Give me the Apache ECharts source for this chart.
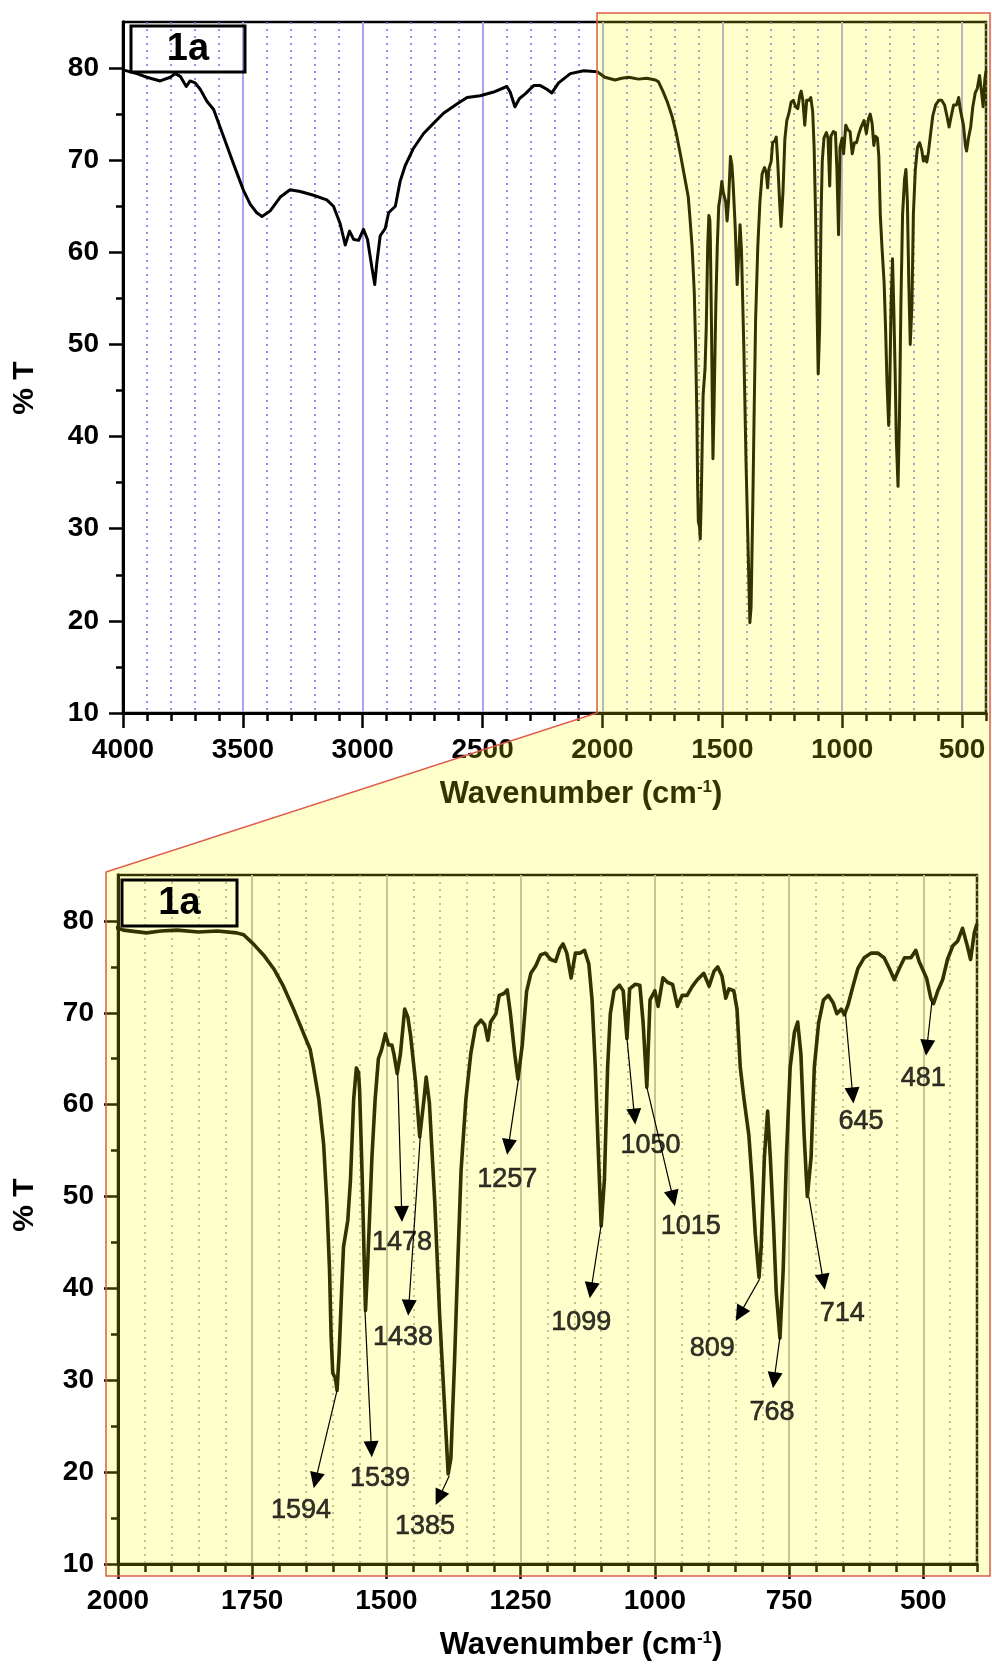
<!DOCTYPE html>
<html><head><meta charset="utf-8">
<script src="https://cdn.jsdelivr.net/npm/echarts@6/dist/echarts.min.js"></script>
<style>html,body{margin:0;padding:0;background:#fff}#c{width:992px;height:1664px}</style>
</head><body><div id="c"></div>
<script>
// ---- spectrum (wavenumber cm-1, %T) ----
const wavenumbers = [4000,3942,3900,3845,3803,3782,3761,3736,3720,3699,3678,3650,3622,3581,3539,3497,3469,3442,3420,3386,3344,3303,3261,3205,3150,3122,3094,3073,3055,3038,3017,2997,2980,2962,2950,2941,2927,2906,2892,2864,2844,2823,2788,2746,2705,2663,2607,2565,2510,2454,2399,2385,2365,2346,2322,2287,2259,2232,2211,2183,2134,2078,2022,2000,
1990,1947,1920,1890,1850,1815,1779,1766,1748,1729,1710,1692,1673,1654,1642,1636,1626,1617,1611,1606,1603,1600,1595,1592,1588,1584,1580,1572,1567,1561,1556,1552,1550,1545,1541,1539,1535,1527,1521,1515,1509,1502,1496,1490,1486,1480,1474,1466,1460,1455,1446,1438,1430,1426,1420,1410,1401,1392,1385,1380,1373,1367,1361,1352,1343,1334,1324,1317,1311,1306,1296,1290,1281,1275,1269,1261,1255,1247,1239,1231,1222,1213,1204,1194,1185,1177,1171,1164,1156,1148,1139,1131,1123,1117,1111,1105,1100,1094,1088,1083,1076,1066,1059,1052,1047,1037,1028,1022,1015,1009,1000,994,985,976,967,958,949,940,930,921,909,899,890,883,875,868,862,853,847,841,834,825,819,813,806,802,796,790,785,779,774,767,761,755,748,740,734,728,722,716,709,703,695,686,677,668,661,653,647,640,631,622,610,597,585,573,563,554,545,535,523,514,508,494,486,481,473,464,455,445,436,427,419,412,405,400];
const transmittance = [79.8,79.4,79.0,78.6,79.0,79.4,79.1,78.0,78.6,78.4,77.7,76.4,75.5,72.6,69.6,66.7,65.2,64.3,63.9,64.5,66.0,66.8,66.6,66.2,65.7,65.0,63.1,60.8,62.3,61.4,61.3,62.5,61.4,58.4,56.5,58.9,61.8,62.6,64.3,65.0,67.7,69.4,71.3,72.9,74.0,75.1,76.1,76.8,77.0,77.4,78.0,77.4,75.8,76.7,77.2,78.1,78.1,77.7,77.3,78.4,79.4,79.7,79.6,79.2,
79.0,78.7,78.9,79.0,78.8,78.9,78.7,78.5,77.5,76.3,74.8,72.9,70.4,67.7,66.0,64.1,60.6,55.7,49.4,42.0,34.7,30.8,30.2,28.9,33.0,39.0,44.5,47.4,51.8,60.6,64.0,63.5,61.6,51.8,42.0,37.6,42.5,54.3,60.6,65.0,66.0,67.7,66.5,66.5,65.5,63.4,65.5,70.4,69.5,67.5,62.6,56.5,60.6,63.0,60.2,49.4,37.2,27.4,19.8,21.5,32.3,43.0,52.8,60.6,65.5,68.5,69.2,68.7,67.0,69.0,69.9,71.9,72.1,72.5,69.9,65.5,62.8,66.5,72.3,74.3,75.1,76.3,76.5,75.8,75.6,77.0,77.5,76.5,73.8,76.5,76.5,76.8,75.3,71.4,64.1,54.3,46.8,51.8,64.1,69.9,72.4,73.0,72.4,67.2,72.6,73.1,73.0,69.0,61.9,71.4,72.4,70.7,73.8,73.3,73.1,70.7,71.9,71.9,72.9,73.6,74.3,72.9,74.5,75.0,74.0,71.6,72.6,72.4,70.4,64.1,60.6,56.7,51.8,45.9,41.2,44.5,54.3,59.3,54.3,46.9,39.6,34.6,42.0,54.3,64.1,67.9,69.0,65.5,56.7,50.0,54.3,64.1,68.9,71.4,71.9,71.1,69.9,70.4,69.8,70.9,72.9,74.8,76.0,76.5,76.5,76.0,74.8,73.6,74.8,76.0,76.0,76.8,75.6,73.8,71.6,71.0,72.4,73.6,75.8,77.3,77.8,79.2,77.5,75.8,78.7,79.7];

// ---- peak annotations (data coordinates) ----
const peakLabels = ['1594','1539','1478','1438','1385','1257','1099','1050','1015','809','768','714','645','481'];
const peakPoints = [[1592,28.9],[1540,37.6],[1479,63.3],[1437,56.5],[1383,19.6],[1254,62.8],[1100,46.9],[1052,67.2],[1015,61.9],[805,41.0],[767,34.7],[713,49.9],[645,69.9],[484,71.2]];
const arrowEnds = [[1632,19.1],[1528,22.5],[1471.5,48.1],[1458.5,37.9],[1402,17.2],[1273,55.4],[1119,39.8],[1038,58.7],[966,49.8],[842,37.2],[778,30.0],[686,40.7],[631.5,61.0],[493.4,66.2]];
const labelPoints = [[1659,15.8],[1512,19.3],[1471,45.0],[1469,34.7],[1428,14.1],[1275,51.9],[1137,36.3],[1008,55.5],[933,46.7],[893,33.4],[782,26.5],[651,37.3],[616,58.2],[500,62.8]];

// ---- ticks ----
const topMajorTicks = [4000,3500,3000,2500,2000,1500,1000,500];
const topMinorTicks = [4000,3900,3800,3700,3600,3500,3400,3300,3200,3100,3000,2900,2800,2700,2600,2500,2400,2300,2200,2100,2000,1900,1800,1700,1600,1500,1400,1300,1200,1100,1000,900,800,700,600,500,400];
const bottomMajorTicks = [2000,1750,1500,1250,1000,750,500];
const bottomMinorTicks = [2000,1950,1900,1850,1800,1750,1700,1650,1600,1550,1500,1450,1400,1350,1300,1250,1200,1150,1100,1050,1000,950,900,850,800,750,700,650,600,550,500,450,400];
const yMajorTicks = [10,20,30,40,50,60,70,80];
const yMinorTicks = [15,25,35,45,55,65,75];

const FONT = 'Liberation Sans, Arial, sans-serif';
const spectrum = wavenumbers.map((w, i) => [w, transmittance[i]]);
const plain = (v) => String(v);

function xAxisPair(grid, min, max, minor, major, dashColor, solidColor, solidWidth) {
  return [
    { gridIndex: grid, type: 'value', min: min, max: max, inverse: true, position: 'bottom',
      axisLine: { show: true, onZero: false, lineStyle: { color: '#000', width: 3 } },
      axisTick: { show: true, customValues: minor, length: 8, lineStyle: { color: '#000', width: 2.5 } },
      axisLabel: { show: false },
      splitLine: { show: true, lineStyle: { color: dashColor, width: 1.5, type: [2, 5] } } },
    { gridIndex: grid, type: 'value', min: min, max: max, inverse: true, position: 'bottom',
      axisLine: { show: true, onZero: false, lineStyle: { color: '#000', width: 3 } },
      axisTick: { show: true, customValues: major, length: 15, lineStyle: { color: '#000', width: 2.5 } },
      axisLabel: { show: true, customValues: major, formatter: plain, margin: 23, color: '#000', fontSize: 28, fontWeight: 'bold', fontFamily: FONT },
      splitLine: { show: true, lineStyle: { color: solidColor, width: solidWidth, type: 'solid' } } }
  ];
}
function yAxisPair(grid) {
  return [
    { gridIndex: grid, type: 'value', min: 10, max: 85, position: 'left',
      axisLine: { show: true, onZero: false, lineStyle: { color: '#000', width: 3 } },
      axisTick: { show: true, customValues: yMinorTicks, length: 7, lineStyle: { color: '#000', width: 2.5 } },
      axisLabel: { show: false }, splitLine: { show: false } },
    { gridIndex: grid, type: 'value', min: 10, max: 85, position: 'left',
      axisLine: { show: true, onZero: false, lineStyle: { color: '#000', width: 3 } },
      axisTick: { show: true, customValues: yMajorTicks, length: 14, lineStyle: { color: '#000', width: 2.5 } },
      axisLabel: { show: true, customValues: yMajorTicks, formatter: plain, margin: 24, color: '#000', fontSize: 28, fontWeight: 'bold', fontFamily: FONT },
      splitLine: { show: false } }
  ];
}

const titleRich = {
  a: { fontSize: 31, fontWeight: 'bold', fontFamily: FONT, fill: '#000' },
  s: { fontSize: 17, fontWeight: 'bold', fontFamily: FONT, fill: '#000', verticalAlign: 'top', padding: [0, 0, 14, 0] }
};

const chart = echarts.init(document.getElementById('c'), null, { renderer: 'canvas' });
chart.setOption({
  animation: false,
  backgroundColor: '#fff',
  grid: [
    { left: 123, top: 22, width: 863, height: 691, show: true, backgroundColor: '#fff', borderColor: '#000', borderWidth: 2.5 },
    { left: 118, top: 875, width: 859, height: 689, show: true, backgroundColor: '#fff', borderColor: '#000', borderWidth: 2.5 }
  ],
  xAxis: [].concat(
    xAxisPair(0, 400, 4000, topMinorTicks, topMajorTicks, '#6c6cdc', '#a4a4f2', 2),
    xAxisPair(1, 400, 2000, bottomMinorTicks, bottomMajorTicks, '#9a9a9a', '#b8b8b8', 2)
  ),
  yAxis: [].concat(yAxisPair(0), yAxisPair(1)),
  series: [
    { type: 'line', xAxisIndex: 1, yAxisIndex: 1, data: spectrum, showSymbol: false, symbol: 'none',
      lineStyle: { color: '#000', width: 3, join: 'round' }, z: 3, clip: true },
    { type: 'line', xAxisIndex: 3, yAxisIndex: 3, data: spectrum, showSymbol: false, symbol: 'none',
      lineStyle: { color: '#000', width: 3.6, join: 'round' }, z: 3, clip: true },
    { type: 'scatter', xAxisIndex: 3, yAxisIndex: 3, z: 60, symbolSize: 0, silent: true,
      data: labelPoints.map((p, i) => ({ value: p, name: peakLabels[i] })),
      label: { show: true, position: 'inside', formatter: (p) => p.name, color: '#000', fontSize: 27, fontFamily: FONT,
               textBorderColor: '#000', textBorderWidth: 0.6 },
      markLine: {
        silent: true, z: 60, animation: false,
        symbol: ['none', 'triangle'], symbolSize: [15, 16],
        lineStyle: { color: '#000', width: 1.2, type: 'solid' },
        label: { show: false },
        emphasis: { disabled: true },
        data: peakPoints.map((p, i) => [{ coord: p }, { coord: arrowEnds[i] }])
      } }
  ],
  graphic: [
    { type: 'text', z: 10, x: 581, y: 794, style: { text: '{a|Wavenumber (cm}{s|-1}{a|)}', rich: titleRich, align: 'center', verticalAlign: 'middle' } },
    { type: 'text', z: 60, x: 581, y: 1645, style: { text: '{a|Wavenumber (cm}{s|-1}{a|)}', rich: titleRich, align: 'center', verticalAlign: 'middle' } },
    { type: 'text', z: 60, x: 25, y: 388, rotation: Math.PI / 2, style: { text: '% T', fontSize: 30, fontWeight: 'bold', fontFamily: FONT, fill: '#000', align: 'center', verticalAlign: 'middle' } },
    { type: 'text', z: 60, x: 25, y: 1205, rotation: Math.PI / 2, style: { text: '% T', fontSize: 30, fontWeight: 'bold', fontFamily: FONT, fill: '#000', align: 'center', verticalAlign: 'middle' } },
    { type: 'polygon', z: 50, silent: true,
      shape: { points: [[597, 13], [990, 13], [990, 1576], [106, 1576], [106, 872], [597, 713]] },
      style: { fill: 'rgba(255,255,0,0.2)', stroke: '#e05a4a', lineWidth: 1.5 } },
    { type: 'rect', z: 60, shape: { x: 131, y: 26, width: 114, height: 46 }, style: { fill: 'none', stroke: '#000', lineWidth: 3 } },
    { type: 'text', z: 60, x: 188, y: 50, style: { text: '1a', fontSize: 38, fontWeight: 'bold', fontFamily: FONT, fill: '#000', align: 'center', verticalAlign: 'middle' } },
    { type: 'rect', z: 60, shape: { x: 122, y: 880, width: 115, height: 46 }, style: { fill: 'none', stroke: '#000', lineWidth: 3 } },
    { type: 'text', z: 60, x: 179.5, y: 904, style: { text: '1a', fontSize: 38, fontWeight: 'bold', fontFamily: FONT, fill: '#000', align: 'center', verticalAlign: 'middle' } }
  ]
});
</script></body></html>
